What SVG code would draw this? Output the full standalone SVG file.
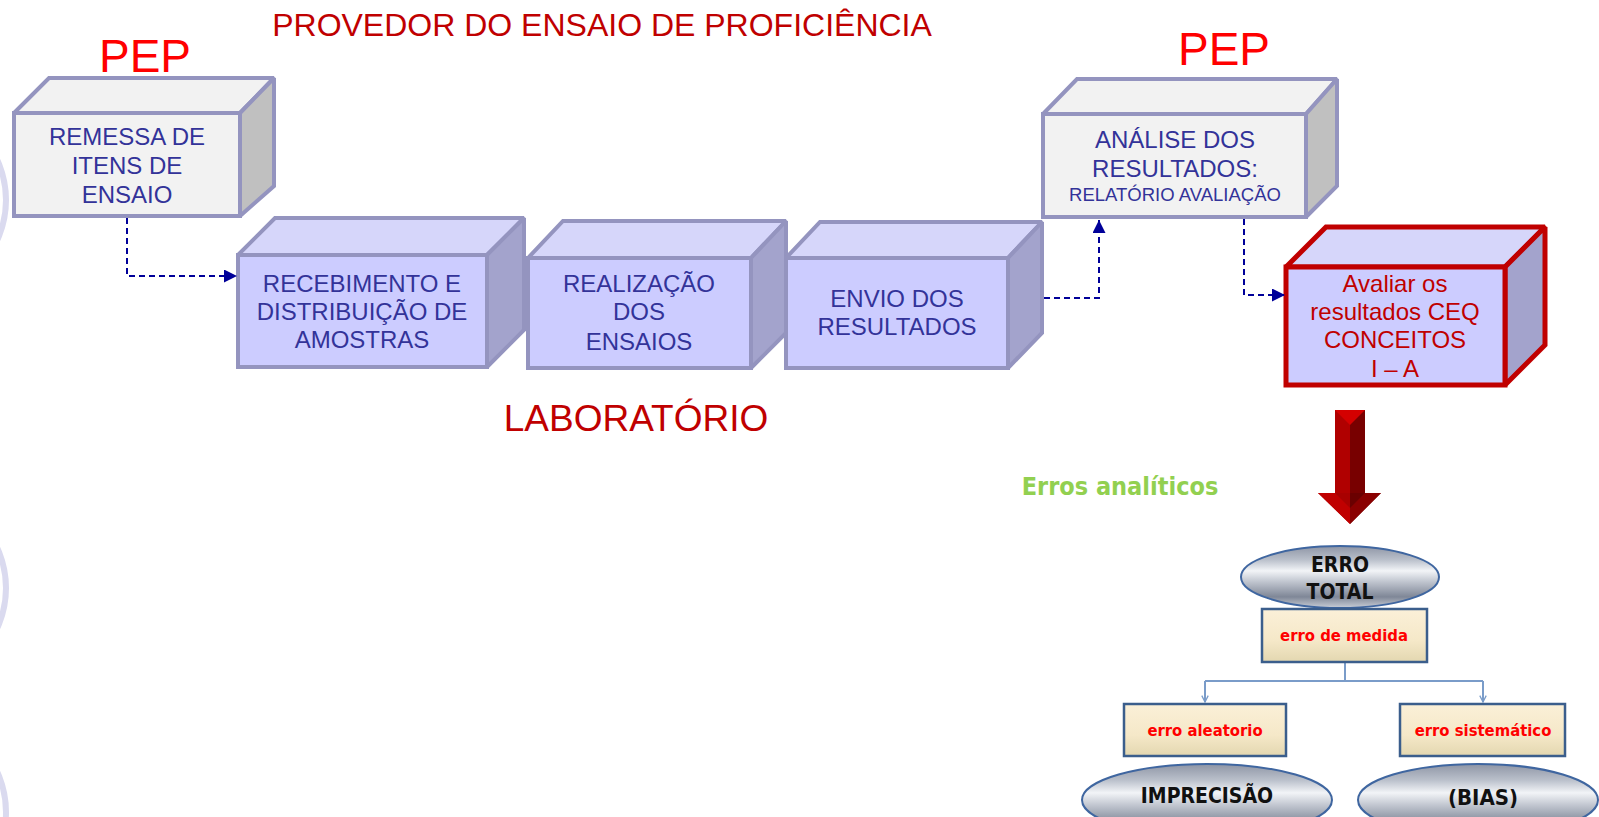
<svg xmlns="http://www.w3.org/2000/svg" width="1599" height="817" viewBox="0 0 1599 817">
<defs>
<style>
.bx{stroke:#9494bf;stroke-width:4;stroke-linejoin:miter;stroke-miterlimit:2}
.lav .f{fill:#ccccff}.lav .t{fill:#d6d6fa}.lav .s{fill:#a3a3cc}
.gry .f{fill:#f2f2f2}.gry .t{fill:#f2f2f2}.gry .s{fill:#c0c0c0}
.red .bx{stroke:#c00000;stroke-width:5}
.bt{font-family:"Liberation Sans",Arial,sans-serif;font-size:24px;fill:#333399;text-anchor:middle}
.sm{font-size:18.5px}
.rt{font-family:"Liberation Sans",Arial,sans-serif;font-size:24px;fill:#c00000;text-anchor:middle}
.dash{fill:none;stroke:#000099;stroke-width:2;stroke-dasharray:6 4}
.tb{font-family:"DejaVu Sans Condensed","DejaVu Sans",sans-serif;font-weight:bold;text-anchor:middle}
.eb{fill:url(#cream);stroke:#3b5e8c;stroke-width:2.5}
.el{fill:url(#metal);stroke:#3f66a0;stroke-width:2}
.tree{fill:none;stroke:#7a9cc9;stroke-width:2}
</style>
<marker id="ah" viewBox="0 0 10 10" refX="10" refY="5" markerWidth="14" markerHeight="13" markerUnits="userSpaceOnUse" orient="auto">
<path d="M0,0 L10,5 L0,10 z" fill="#000099"/>
</marker>
<marker id="ah2" viewBox="0 0 10 10" refX="9" refY="5" markerWidth="8" markerHeight="8" markerUnits="userSpaceOnUse" orient="auto">
<path d="M1,1 L9,5 L1,9" fill="none" stroke="#7a9cc9" stroke-width="1.6"/>
</marker>
<linearGradient id="metal" x1="0" y1="0" x2="0" y2="1">
<stop offset="0" stop-color="#8e95a5"/>
<stop offset="0.22" stop-color="#b9bfca"/>
<stop offset="0.4" stop-color="#f2f4f7"/>
<stop offset="0.58" stop-color="#bfc4ce"/>
<stop offset="0.82" stop-color="#7f8797"/>
<stop offset="1" stop-color="#c9ced7"/>
</linearGradient>
<linearGradient id="cream" x1="0" y1="0" x2="0" y2="1">
<stop offset="0" stop-color="#fbf0d8"/>
<stop offset="0.6" stop-color="#f5e8c8"/>
<stop offset="1" stop-color="#e3d7b0"/>
</linearGradient>
</defs>
<rect width="1599" height="817" fill="#ffffff"/>

<g id="deco" fill="none" stroke="#dadaef" stroke-width="6">
<circle cx="-90" cy="200" r="96"/>
<circle cx="-90" cy="588" r="96"/>
<circle cx="-90" cy="812" r="96"/>
</g>

<g id="titles">
<text x="602" y="36" font-family="Liberation Sans,Arial,sans-serif" font-size="32" fill="#c00000" text-anchor="middle">PROVEDOR DO ENSAIO DE PROFICIÊNCIA</text>
<text x="145" y="72" font-family="Liberation Sans,Arial,sans-serif" font-size="46" fill="#ff0000" text-anchor="middle">PEP</text>
<text x="1224" y="65" font-family="Liberation Sans,Arial,sans-serif" font-size="46" fill="#ff0000" text-anchor="middle">PEP</text>
<text x="636" y="431" font-family="Liberation Sans,Arial,sans-serif" font-size="37" fill="#c00000" text-anchor="middle">LABORATÓRIO</text>
<text x="1120" y="495" class="tb" font-size="25" fill="#92d050">Erros analíticos</text>
</g>

<g id="n2" class="lav">
<polygon class="bx t" points="238,255 275,218 524,218 487,255"/>
<polygon class="bx s" points="487,255 524,218 524,330 487,367"/>
<rect class="bx f" x="238" y="255" width="249" height="112"/>
<text class="bt" x="362" y="292">RECEBIMENTO E</text>
<text class="bt" x="362" y="320">DISTRIBUIÇÃO DE</text>
<text class="bt" x="362" y="348">AMOSTRAS</text>
</g>

<g id="n3" class="lav">
<polygon class="bx t" points="528,258 563,221 786,221 751,258"/>
<polygon class="bx s" points="751,258 786,221 786,333 751,368"/>
<rect class="bx f" x="528" y="258" width="223" height="110"/>
<text class="bt" x="639" y="292">REALIZAÇÃO</text>
<text class="bt" x="639" y="320">DOS</text>
<text class="bt" x="639" y="350">ENSAIOS</text>
</g>

<g id="n4" class="lav">
<polygon class="bx t" points="786,258 820,222 1042,222 1008,258"/>
<polygon class="bx s" points="1008,258 1042,222 1042,333 1008,368"/>
<rect class="bx f" x="786" y="258" width="222" height="110"/>
<text class="bt" x="897" y="307">ENVIO DOS</text>
<text class="bt" x="897" y="335">RESULTADOS</text>
</g>

<g id="n1" class="gry">
<polygon class="bx t" points="14,113 49,78 274,78 240,113"/>
<polygon class="bx s" points="240,113 274,78 274,186 240,216"/>
<rect class="bx f" x="14" y="113" width="226" height="103"/>
<text class="bt" x="127" y="145">REMESSA DE</text>
<text class="bt" x="127" y="174">ITENS DE</text>
<text class="bt" x="127" y="203">ENSAIO</text>
</g>

<g id="n5" class="gry">
<polygon class="bx t" points="1043,114 1077,79 1337,79 1306,114"/>
<polygon class="bx s" points="1306,114 1337,79 1337,186 1306,217"/>
<rect class="bx f" x="1043" y="114" width="263" height="103"/>
<text class="bt" x="1175" y="148">ANÁLISE DOS</text>
<text class="bt" x="1175" y="177">RESULTADOS:</text>
<text class="bt sm" x="1175" y="201">RELATÓRIO AVALIAÇÃO</text>
</g>

<g id="n6" class="lav red">
<polygon class="bx t" points="1286,267 1326,227 1545,227 1505,267"/>
<polygon class="bx s" points="1505,267 1545,227 1545,345 1505,385"/>
<rect class="bx f" x="1286" y="267" width="219" height="118"/>
<text class="rt" x="1395" y="292">Avaliar os</text>
<text class="rt" x="1395" y="320">resultados CEQ</text>
<text class="rt" x="1395" y="348">CONCEITOS</text>
<text class="rt" x="1395" y="377">I – A</text>
</g>

<g id="connectors">
<path class="dash" d="M127,218 V276 H237" marker-end="url(#ah)"/>
<path class="dash" d="M1044,298 H1099 V220" marker-end="url(#ah)"/>
<path class="dash" d="M1244,219 V295 H1285" marker-end="url(#ah)"/>
<path class="tree" d="M1345,662 V681"/>
<path class="tree" d="M1205,681 H1483"/>
<path class="tree" d="M1205,681 V702" marker-end="url(#ah2)"/>
<path class="tree" d="M1483,681 V702" marker-end="url(#ah2)"/>
</g>

<g id="bigarrow">
<rect x="1335" y="410" width="15" height="84" fill="#b00000"/>
<rect x="1350" y="410" width="15" height="84" fill="#780000"/>
<polygon points="1335,410 1365,410 1350,425" fill="#d40000"/>
<polygon points="1318,493 1350,493 1350,524" fill="#a80000"/>
<polygon points="1350,493 1381,493 1350,524" fill="#6a0000"/>
<polygon points="1318,493 1335,493 1350,508 1350,524" fill="#c00000"/>
<polygon points="1365,493 1381,493 1350,524 1350,508" fill="#8a0000"/>
</g>

<g id="errototal">
<ellipse class="el" cx="1340" cy="577" rx="99" ry="31"/>
<text class="tb" x="1340" y="572" font-size="21" fill="#111">ERRO</text>
<text class="tb" x="1340" y="599" font-size="21" fill="#111">TOTAL</text>
</g>

<g id="medida">
<rect class="eb" x="1262" y="609" width="165" height="53"/>
<text class="tb" x="1344" y="641" font-size="16.5" fill="#ff0000">erro de medida</text>
</g>

<g id="aleatorio">
<rect class="eb" x="1124" y="704" width="162" height="52"/>
<text class="tb" x="1205" y="736" font-size="16.5" fill="#ff0000">erro aleatorio</text>
</g>

<g id="sistematico">
<rect class="eb" x="1400" y="704" width="165" height="52"/>
<text class="tb" x="1483" y="736" font-size="16.5" fill="#ff0000">erro sistemático</text>
</g>

<g id="imprecisao">
<ellipse class="el" cx="1207" cy="800" rx="125" ry="36"/>
<text class="tb" x="1207" y="803" font-size="21" fill="#111">IMPRECISÃO</text>
</g>

<g id="bias">
<ellipse class="el" cx="1478" cy="800" rx="120" ry="36"/>
<text class="tb" x="1483" y="805" font-size="22" fill="#111">(BIAS)</text>
</g>
</svg>
